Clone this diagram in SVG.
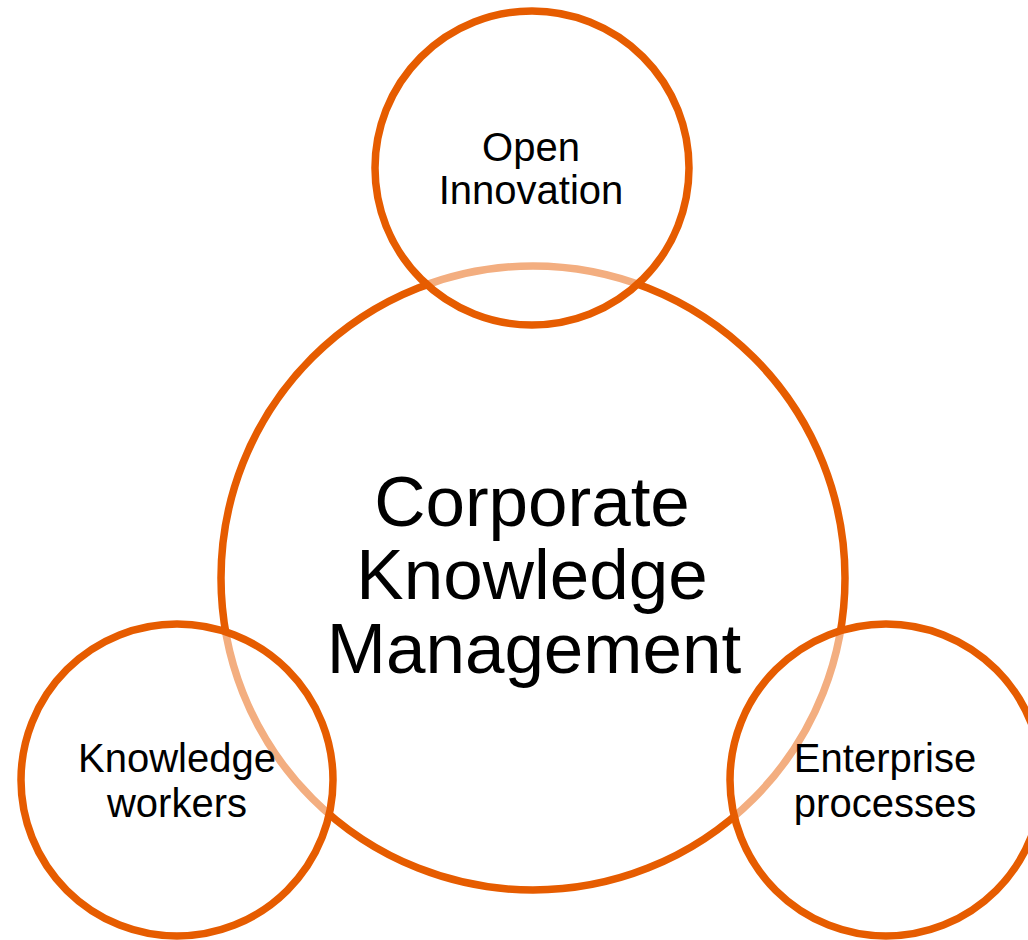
<svg xmlns="http://www.w3.org/2000/svg" width="1028" height="940" viewBox="0 0 1028 940">
<style>
.ring{stroke:#E65C00;stroke-width:7.5;}
.big{fill:none;}
.small{fill:#FFFFFF;fill-opacity:0.5;}
.lbl{font-family:"Liberation Sans",Arial,sans-serif;fill:#000;text-anchor:middle;}
.s{font-size:40px;}
.b{font-size:71px;}
</style>
<rect width="1028" height="940" fill="#FFFFFF"/>
<g id="center">
<circle class="ring big" cx="533" cy="578" r="312"/>
</g>
<g id="open-innovation">
<circle class="ring small" cx="532" cy="168" r="157"/>
</g>
<g id="knowledge-workers">
<circle class="ring small" cx="177" cy="780" r="156"/>
</g>
<g id="enterprise-processes">
<circle class="ring small" cx="886" cy="780" r="156"/>
</g>
<g id="connectors"></g>
<g id="labels">
<text class="lbl b" x="532" y="526">Corporate</text>
<text class="lbl b" x="532" y="599">Knowledge</text>
<text class="lbl b" x="534" y="673">Management</text>
<text class="lbl s" x="531" y="161">Open</text>
<text class="lbl s" x="531" y="204">Innovation</text>
<text class="lbl s" x="177" y="772">Knowledge</text>
<text class="lbl s" x="177" y="817">workers</text>
<text class="lbl s" x="885" y="772">Enterprise</text>
<text class="lbl s" x="885" y="817">processes</text>
</g>
</svg>
